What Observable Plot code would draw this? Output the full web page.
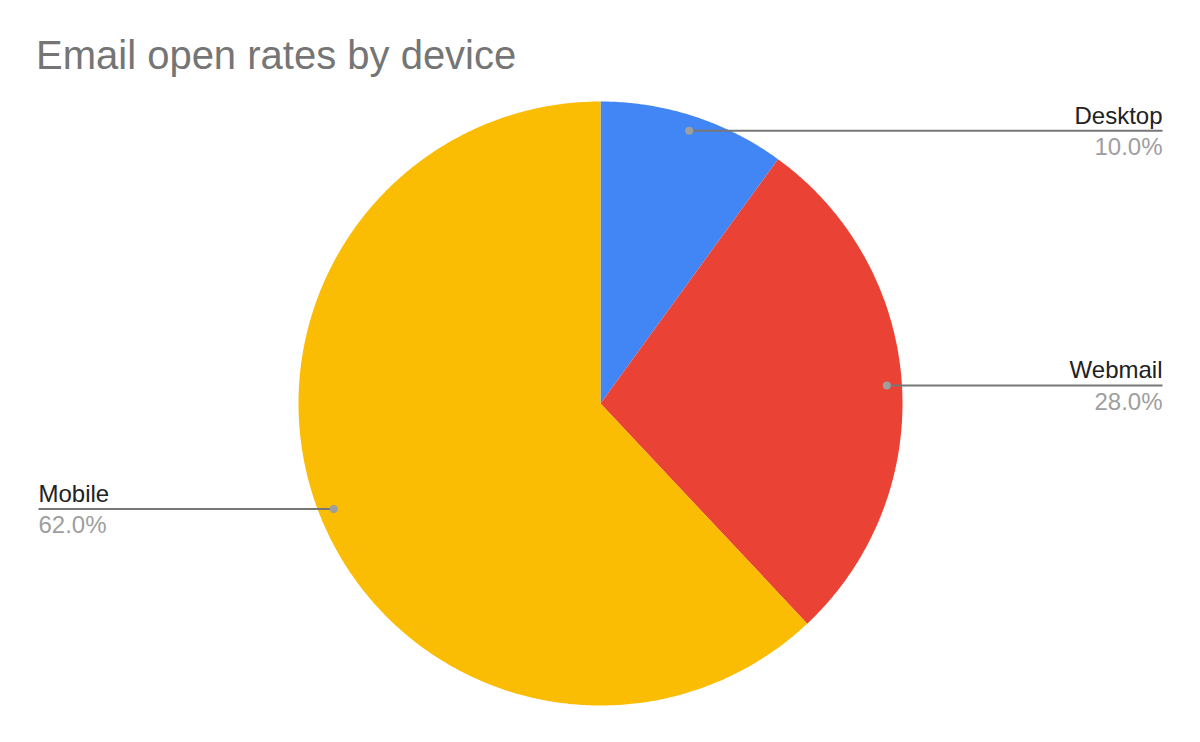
<!DOCTYPE html>
<html>
<head>
<meta charset="utf-8">
<script src="https://cdn.jsdelivr.net/npm/d3@7"></script>
<script src="https://cdn.jsdelivr.net/npm/@observablehq/plot@0.6"></script>
<style>
  html, body { margin: 0; padding: 0; background: #fff; }
  #title { box-sizing: border-box; height: 88px; padding: 35px 0 0 36px; font-family: "Liberation Sans", Arial, sans-serif; font-size: 40px; line-height: 40px; color: #757575; white-space: nowrap; }
  #chart svg { display: block; }
</style>
</head>
<body>
<div id="title">Email open rates by device</div>
<div id="chart"></div>
<script>
const devices = ["Desktop", "Webmail", "Mobile"];
const shares = [10.0, 28.0, 62.0];
const colors = ["#4285F4", "#EA4335", "#FBBC04"];

const W = 1200, H = 742 - 88;
const R = 302;            // pie radius in px
const CX = 600, CY = 315; // pie centre in svg px
const labelEdge = 562 / R; // label x distance from centre, in radius units

const arcs = d3.pie().sort(null).value(d => d.share)(devices.map((name, i) => ({name, share: shares[i]})));

// wedge outlines in radius units (y up)
const wedgePts = [];
for (const a of arcs) {
  wedgePts.push({name: a.data.name, x: 0, y: 0});
  const n = Math.max(8, Math.ceil((a.endAngle - a.startAngle) * 120));
  for (let k = 0; k <= n; k++) {
    const t = a.startAngle + (a.endAngle - a.startAngle) * k / n;
    wedgePts.push({name: a.data.name, x: Math.sin(t), y: Math.cos(t)});
  }
}

const labels = arcs.map(a => {
  const m = (a.startAngle + a.endAngle) / 2;
  const x = 0.95 * Math.sin(m), y = 0.95 * Math.cos(m);
  const side = x >= 0 ? 1 : -1;
  return {name: a.data.name, pct: a.data.share.toFixed(1) + "%", x, y, lx: side * labelEdge, anchor: side > 0 ? "end" : "start"};
});
const right = labels.filter(d => d.anchor === "end");
const left = labels.filter(d => d.anchor === "start");

const textOpts = {fontFamily: "Liberation Sans, Arial, sans-serif", fontSize: 24};

const chart = Plot.plot({
  width: W,
  height: H,
  margin: 0,
  x: {type: "linear", domain: [-CX / R, (W - CX) / R], range: [0, W], axis: null},
  y: {type: "linear", domain: [CY / R, -(H - CY) / R], range: [0, H], axis: null},
  color: {domain: devices, range: colors},
  style: {background: "white"},
  marks: [
    Plot.line(wedgePts, {x: "x", y: "y", z: "name", fill: "name", stroke: "none", curve: "linear-closed"}),
    Plot.link(labels, {x1: "x", y1: "y", x2: "lx", y2: "y", stroke: "#777777", strokeWidth: 2}),
    Plot.dot(labels, {x: "x", y: "y", r: 4, fill: "#9e9e9e", stroke: "none"}),
    Plot.text(right, {x: "lx", y: "y", text: "name", textAnchor: "end", lineAnchor: "bottom", dy: -7, fill: "#222222", ...textOpts}),
    Plot.text(right, {x: "lx", y: "y", text: "pct", textAnchor: "end", lineAnchor: "top", dy: 7, fill: "#9e9e9e", ...textOpts}),
    Plot.text(left, {x: "lx", y: "y", text: "name", textAnchor: "start", lineAnchor: "bottom", dy: -7, fill: "#222222", ...textOpts}),
    Plot.text(left, {x: "lx", y: "y", text: "pct", textAnchor: "start", lineAnchor: "top", dy: 7, fill: "#9e9e9e", ...textOpts})
  ]
});
document.getElementById("chart").appendChild(chart);
</script>
</body>
</html>
